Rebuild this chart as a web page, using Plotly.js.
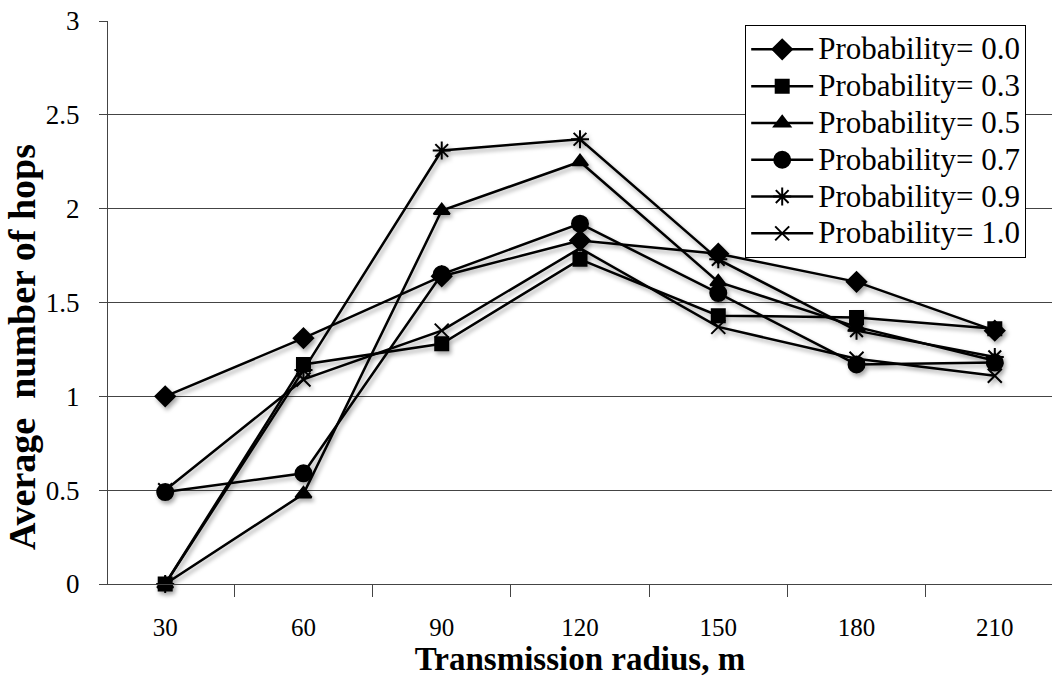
<!DOCTYPE html>
<html>
<head>
<meta charset="utf-8">
<script src="https://cdn.plot.ly/plotly-3.0.1.min.js"></script>
<style>
  html, body { margin: 0; padding: 0; background: #fff; }
  #chart { width: 1052px; height: 680px; }
  /* soft drop shadow under the data lines */
  #chart .cartesianlayer .scatterlayer { filter: drop-shadow(2px 3px 2px rgba(0,0,0,0.35)); }
  /* legend labels a little larger than the row pitch would give */
  .legendtext { font-size: 31px !important; }
</style>
</head>
<body>
<div id="chart"></div>
<script>
// Transmission radius categories (m)
const radius = ["30", "60", "90", "120", "150", "180", "210"];

// Average number of hops for each forwarding probability
const hopsP00 = [1.00, 1.31, 1.64, 1.83, 1.76, 1.61, 1.35];
const hopsP03 = [0.00, 1.17, 1.28, 1.73, 1.43, 1.42, 1.36];
const hopsP05 = [0.00, 0.48, 1.99, 2.25, 1.61, 1.37, 1.19];
const hopsP07 = [0.49, 0.59, 1.65, 1.92, 1.55, 1.17, 1.18];
const hopsP09 = [0.00, 1.14, 2.31, 2.37, 1.73, 1.35, 1.21];
const hopsP10 = [0.50, 1.09, 1.35, 1.79, 1.37, 1.20, 1.11];

const seriesNames = ["Probability= 0.0", "Probability= 0.3", "Probability= 0.5",
                     "Probability= 0.7", "Probability= 0.9", "Probability= 1.0"];
const seriesValues = [hopsP00, hopsP03, hopsP05, hopsP07, hopsP09, hopsP10];
const seriesSymbols = ["diamond", "square", "triangle-up", "circle", "asterisk-open", "x-thin-open"];
const seriesSizes = [15, 13, 14, 16, 15, 14];

const serif = "Liberation Serif, Times New Roman, serif";

const traces = seriesValues.map((vals, i) => ({
  type: "scatter",
  mode: "lines+markers",
  name: seriesNames[i],
  x: radius,
  y: vals,
  cliponaxis: false,
  line: { color: "#000", width: 2.5 },
  marker: {
    symbol: seriesSymbols[i],
    size: seriesSizes[i],
    color: "#000",
    line: { color: "#000", width: 2 }
  }
}));

const layout = {
  width: 1052,
  height: 680,
  margin: { l: 108, r: 0, t: 21, b: 96 },
  paper_bgcolor: "#fff",
  plot_bgcolor: "#fff",
  font: { family: serif, color: "#000", size: 26 },
  showlegend: true,
  legend: {
    x: 0.675, y: 0.993, xanchor: "left", yanchor: "top",
    bgcolor: "#fff",
    bordercolor: "#000",
    borderwidth: 1,
    font: { family: serif, size: 26, color: "#000" },
    itemwidth: 62,
    tracegroupgap: 0
  },
  xaxis: {
    type: "category",
    tickson: "boundaries",
    ticks: "outside",
    ticklen: 12,
    tickcolor: "#444",
    showline: true,
    linecolor: "#444",
    linewidth: 1,
    showgrid: false,
    zeroline: false,
    ticklabelstandoff: 21,
    tickfont: { family: serif, size: 25, color: "#000" },
    title: {
      text: "<b>Transmission radius, m</b>",
      font: { family: serif, size: 33, color: "#000" },
      standoff: 4
    }
  },
  yaxis: {
    range: [0, 3],
    dtick: 0.5,
    ticks: "outside",
    ticklen: 8,
    tickcolor: "#444",
    showline: true,
    linecolor: "#444",
    linewidth: 1,
    showgrid: true,
    gridcolor: "#444",
    gridwidth: 1,
    zeroline: false,
    ticklabelstandoff: 14,
    tickfont: { family: serif, size: 27, color: "#000" }
  },
  annotations: [{
    text: "<b>Average  number of hops</b>",
    xref: "paper", yref: "paper",
    x: -0.091, y: 0.421,
    xanchor: "center", yanchor: "middle",
    textangle: -90,
    showarrow: false,
    font: { family: serif, size: 38, color: "#000" }
  }]
};

Plotly.newPlot("chart", traces, layout, { staticPlot: true, displayModeBar: false });
</script>
</body>
</html>
